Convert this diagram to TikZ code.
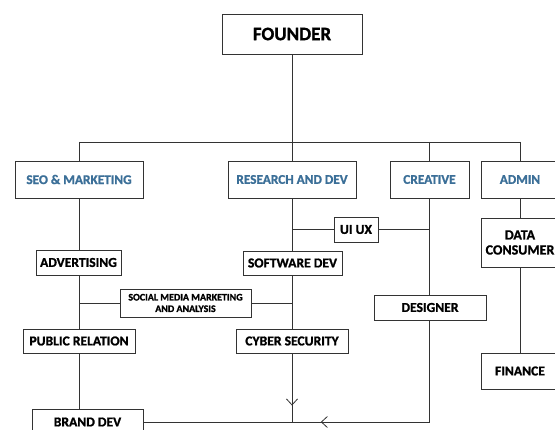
\documentclass[tikz,border=0pt]{standalone}
\usepackage{fontspec}
\setmainfont{Carlito}[BoldFont={Carlito Bold},BoldFeatures={FakeBold=1.2}]
\usetikzlibrary{arrows.meta,decorations.markings}
\definecolor{deptblue}{HTML}{3B6F98}
\definecolor{linegray}{HTML}{333333}
\tikzset{
  box/.style={draw=linegray, line width=0.9pt, rectangle, inner sep=0pt, align=center, font=\bfseries\fontsize{13.6}{15}\selectfont},
  dept/.style={box, text=deptblue, font=\bfseries\fontsize{13.3}{15}\selectfont},
  conn/.style={draw=linegray, line width=0.8pt},
  midarrow/.style={postaction={decorate}, decoration={markings, mark=at position #1 with {\arrow{Straight Barb[length=6pt,width=11pt,line width=0.8pt]}}}}
}
\begin{document}
\begin{tikzpicture}[x=1pt,y=-1pt]
\useasboundingbox (0,0) rectangle (555,430);
\fill[white] (0,0) rectangle (555,430);
\begin{scope}
\clip (0,0) rectangle (555,430);
\node[box, minimum width=140pt, minimum height=40pt, font=\bfseries\fontsize{19}{21}\selectfont] (founder) at (292,34) {FOUNDER};
\node[dept, minimum width=128pt, minimum height=37pt] (seo) at (79,179.5) {SEO \& MARKETING};
\node[dept, minimum width=128pt, minimum height=37pt] (rnd) at (292,179.5) {RESEARCH AND DEV};
\node[dept, minimum width=79pt, minimum height=37pt] (creative) at (429.5,179.5) {CREATIVE};
\node[dept, minimum width=78pt, minimum height=37pt] (admin) at (520,179.5) {ADMIN};
\node[box, minimum width=85pt, minimum height=25pt] (adv) at (78.5,262.5) {ADVERTISING};
\node[box, minimum width=99pt, minimum height=24pt] (soft) at (292.5,263) {SOFTWARE DEV};
\node[box, minimum width=44pt, minimum height=25pt] (uiux) at (356,229.5) {UI UX};
\node[box, minimum width=78pt, minimum height=49pt, font=\bfseries\fontsize{14}{15}\selectfont] (data) at (520,242.5) {DATA\\CONSUMER};
\node[box, minimum width=131pt, minimum height=28pt, font=\bfseries\fontsize{10}{11.5}\selectfont] (social) at (185.5,303) {SOCIAL MEDIA MARKETING\\AND ANALYSIS};
\node[box, minimum width=112pt, minimum height=24pt] (pr) at (79,341) {PUBLIC RELATION};
\node[box, minimum width=112pt, minimum height=24pt] (cyber) at (292,341) {CYBER SECURITY};
\node[box, minimum width=112pt, minimum height=25pt] (designer) at (430,307.5) {DESIGNER};
\node[box, minimum width=78pt, minimum height=36pt] (finance) at (520,371) {FINANCE};
\node[box, minimum width=111pt, minimum height=26pt] (brand) at (87.5,422) {BRAND DEV};

\coordinate (bus) at (292,142);
\coordinate (busL) at (79,142);
\coordinate (busR) at (520,142);
\coordinate (bot) at (292,422);
\coordinate (botR) at (429.5,422);

\draw[conn] (founder.south) -- (bus);
\draw[conn] (busL) -- (busR);
\draw[conn] (busL) -- (seo.north);
\draw[conn] (bus) -- (rnd.north);
\draw[conn] (creative.north |- bus) -- (creative.north);
\draw[conn] (busR) -- (admin.north);

\draw[conn] (seo.south) -- (adv.north -| seo.south);
\draw[conn] (adv.south -| seo.south) -- (pr.north);
\draw[conn] (pr.south) -- (brand.north -| pr.south);
\draw[conn] (social.west -| seo.south) -- (social.west);

\draw[conn] (rnd.south) -- (soft.north -| rnd.south);
\draw[conn] (uiux.west -| rnd.south) -- (uiux.west);
\draw[conn] (uiux.east) -- (uiux.east -| creative.south);
\draw[conn] (social.east) -- (social.east -| rnd.south);
\draw[conn] (soft.south -| rnd.south) -- (cyber.north);
\draw[conn, midarrow=0.76] (cyber.south) -- (bot);

\draw[conn] (creative.south) -- (designer.north -| creative.south);
\draw[conn] (designer.south -| creative.south) -- (botR);
\draw[conn, midarrow=0.38] (botR) -- (brand.east);

\draw[conn] (admin.south) -- (data.north);
\draw[conn] (data.south) -- (finance.north);
\end{scope}
\end{tikzpicture}
\end{document}
